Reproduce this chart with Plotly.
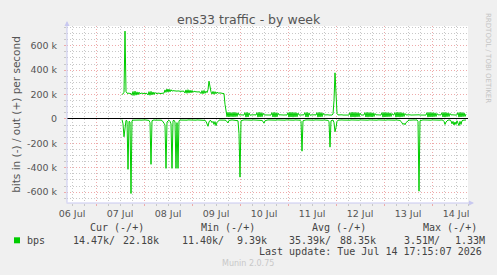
import pandas as pd
import plotly.graph_objects as go

# ---------------- data (30-minute samples, kbit/s) ----------------
start_time = "2026-07-07 13:00"
step = "30min"

out_k = [
    200, 205, 215, 720, 225, 212, 208, 214, 206, 210, 195, 225, 192, 228, 195, 222,
    198, 220, 205, 212, 210, 208, 212, 207, 211, 209, 196, 224, 194, 226, 197, 221,
    200, 218, 208, 211, 209, 212, 208, 210, 213, 209, 212, 238, 218, 246, 220, 244,
    222, 240, 228, 232, 230, 229, 231, 228, 230, 227, 229, 226, 228, 225, 227, 212,
    238, 210, 240, 212, 236, 214, 234, 218, 228, 224, 222, 225, 221, 223, 220, 208,
    232, 206, 234, 210, 228, 216, 240, 310, 250, 222, 204, 226, 202, 224, 206, 220,
    212, 214, 211, 213, 210, 212, 208, 120, 40, 18, 55, 16, 54, 18, 52, 17,
    55, 18, 52, 20, 50, 33, 34, 32, 33, 34, 32, 52, 15, 54, 16, 50,
    30, 33, 34, 32, 33, 34, 32, 52, 15, 55, 16, 53, 18, 48, 33, 32,
    34, 33, 32, 34, 33, 32, 52, 16, 54, 15, 52, 18, 48, 33, 34, 32,
    33, 34, 32, 33, 34, 32, 52, 15, 55, 16, 54, 15, 53, 17, 52, 18,
    48, 33, 32, 34, 33, 32, 34, 52, 16, 54, 15, 50, 30, 33, 34, 32,
    33, 34, 32, 52, 15, 54, 16, 53, 18, 48, 33, 34, 32, 33, 34, 32,
    33, 34, 32, 40, 150, 378, 130, 45, 33, 34, 32, 33, 34, 32, 33, 34,
    32, 33, 34, 32, 52, 15, 55, 16, 54, 15, 53, 17, 52, 18, 48, 33,
    32, 34, 33, 52, 16, 54, 15, 53, 17, 52, 16, 50, 20, 45, 33, 34,
    32, 33, 34, 32, 52, 15, 54, 16, 53, 17, 52, 18, 50, 20, 45, 33,
    34, 52, 15, 55, 16, 54, 15, 53, 17, 50, 20, 45, 33, 34, 32, 33,
    34, 32, 33, 34, 32, 33, 34, 32, 33, 34, 32, 33, 34, 32, 33, 34,
    32, 52, 15, 54, 16, 53, 17, 52, 18, 50, 20, 45, 33, 34, 32, 33,
    52, 16, 54, 15, 53, 18, 50, 20, 45, 33, 34, 32, 33, 34, 32, 33,
    52, 15, 54, 16, 53, 18, 50, 20, 40,
]

in_k = [
    -5, -40, -146, -90, -12, -15, -413, -20, -25, -611, -15, -10, -9, -10, -8, -9,
    -10, -8, -9, -10, -8, -9, -10, -8, -9, -10, -8, -12, -30, -372, -15, -9,
    -8, -10, -9, -8, -10, -9, -8, -10, -12, -20, -35, -50, -405, -25, -15, -10,
    -20, -40, -405, -15, -10, -25, -405, -30, -405, -15, -9, -10, -8, -9, -10, -8,
    -9, -10, -8, -9, -10, -8, -9, -10, -8, -9, -10, -8, -9, -10, -8, -9,
    -10, -8, -9, -12, -20, -35, -60, -25, -12, -15, -30, -20, -45, -22, -55, -30,
    -15, -10, -9, -8, -10, -9, -8, -10, -12, -25, -33, -12, -9, -10, -8, -9,
    -10, -8, -9, -10, -15, -120, -477, -15, -9, -10, -8, -9, -10, -8, -9, -10,
    -8, -9, -10, -8, -9, -10, -8, -9, -10, -8, -9, -10, -12, -20, -35, -15,
    -9, -10, -8, -9, -10, -8, -9, -10, -8, -9, -10, -8, -9, -10, -8, -9,
    -10, -8, -9, -10, -8, -9, -10, -8, -9, -10, -8, -9, -10, -8, -9, -10,
    -8, -9, -10, -20, -264, -15, -9, -10, -8, -9, -10, -8, -9, -10, -8, -9,
    -10, -8, -9, -10, -8, -9, -10, -8, -9, -10, -8, -9, -10, -8, -12, -20,
    -231, -15, -10, -9, -30, -105, -70, -20, -10, -8, -9, -10, -8, -9, -10, -8,
    -9, -10, -8, -9, -10, -8, -9, -10, -8, -9, -10, -8, -9, -10, -8, -9,
    -10, -8, -9, -10, -8, -9, -10, -8, -9, -10, -8, -9, -10, -8, -9, -10,
    -8, -9, -10, -8, -9, -10, -8, -9, -10, -8, -9, -10, -8, -9, -10, -8,
    -9, -10, -8, -9, -10, -8, -12, -20, -30, -45, -35, -48, -30, -20, -12, -9,
    -10, -8, -9, -10, -8, -9, -10, -8, -20, -592, -15, -9, -10, -8, -9, -10,
    -8, -9, -10, -8, -9, -10, -8, -9, -10, -8, -9, -10, -8, -9, -10, -8,
    -9, -10, -20, -45, -25, -12, -9, -10, -8, -15, -40, -20, -50, -25, -45, -15,
    -30, -55, -20, -45, -15, -10, -9, -10, -8,
]

y_tick_vals = [-600, -400, -200, 0, 200, 400, 600]
y_tick_text = ["-600 k", "-400 k", "-200 k", "0", "200 k", "400 k", "600 k"]

legend_label = "bps"
stat_headers = ["Cur (-/+)", "Min (-/+)", "Avg (-/+)", "Max (-/+)"]
stat_values = ["14.47k/", "22.18k", "11.40k/", "9.39k", "35.39k/", "88.35k", "3.51M/", "1.33M"]
last_update = "Last update: Tue Jul 14 17:15:07 2026"
title_text = "ens33 traffic - by week"
y_title = "bits in (-) / out (+) per second"
watermark = "RRDTOOL / TOBI OETIKER"
footer = "Munin 2.0.75"

times = pd.date_range(start=start_time, periods=len(out_k), freq=step)

# ---------------- layout geometry ----------------
W, H = 497, 275
PL, PR, PT, PB = 67, 468, 26, 203   # plot box in pixels


def px(xp):
    return (xp - PL) / (PR - PL)


def py(yp):
    return (PB - yp) / (PB - PT)


GREEN = "#00CC00"
MGRID = "#eeaaaa"
GRID = "#c8c8c8"
AXIS = "#c8c8f0"
TXT = "#555555"
DASH = "1px,2px"

fig = go.Figure()
fig.add_trace(go.Scatter(x=times, y=out_k, mode="lines",
                         line=dict(color=GREEN, width=1), showlegend=False))
fig.add_trace(go.Scatter(x=times, y=in_k, mode="lines",
                         line=dict(color=GREEN, width=1), showlegend=False))

fig.update_layout(
    width=W, height=H,
    margin=dict(l=PL, r=W - PR, t=PT, b=H - PB, pad=0),
    paper_bgcolor="#F0F0F0", plot_bgcolor="white",
    font=dict(family="DejaVu Sans", size=10, color=TXT),
)

fig.update_xaxes(
    type="date",
    range=["2026-07-06 09:30", "2026-07-14 18:00"],
    tick0="2026-07-07", dtick=86400000, tickformat="%d %b",
    ticklabelmode="period",
    showgrid=True, gridcolor=MGRID, griddash=DASH, gridwidth=1,
    ticks="outside", ticklen=2, tickcolor=MGRID,
    minor=dict(tickmode="linear", dtick=21600000, tick0="2026-07-07", showgrid=True,
               gridcolor=GRID, griddash=DASH, gridwidth=1,
               ticks="outside", ticklen=2, tickcolor=GRID),
    showline=False, zeroline=False,
    tickfont=dict(family="DejaVu Sans", size=9.5, color=TXT),
)

fig.update_yaxes(
    range=[-689, 762],
    tickmode="array", tickvals=y_tick_vals, ticktext=y_tick_text,
    showgrid=True, gridcolor=MGRID, griddash=DASH, gridwidth=1,
    ticks="outside", ticklen=2, tickcolor=MGRID, ticklabelstandoff=5,
    minor=dict(tickmode="linear", tick0=0, dtick=50, showgrid=True, gridcolor=GRID,
               griddash=DASH, gridwidth=1,
               ticks="outside", ticklen=2, tickcolor=GRID),
    zeroline=True, zerolinecolor="black", zerolinewidth=1,
    showline=False,
    tickfont=dict(family="DejaVu Sans", size=9.5, color=TXT),
    title=dict(text=y_title, font=dict(family="DejaVu Sans", size=10.5, color=TXT),
               standoff=4),
)

ann = []
# axis arrows
ann.append(dict(xref="paper", yref="paper", x=px(PL), y=py(21), ax=0, ay=183,
                axref="pixel", ayref="pixel", text="", showarrow=True,
                arrowhead=2, arrowsize=1, arrowwidth=1, arrowcolor=AXIS))
ann.append(dict(xref="paper", yref="paper", x=px(474), y=py(PB), ax=-409, ay=0,
                axref="pixel", ayref="pixel", text="", showarrow=True,
                arrowhead=2, arrowsize=1, arrowwidth=1, arrowcolor=AXIS))
# title
ann.append(dict(xref="paper", yref="paper", x=px(248.7), y=py(19.5), text=title_text,
                showarrow=False, xanchor="center", yanchor="middle",
                font=dict(family="DejaVu Sans", size=12.5, color=TXT)))
# watermark
ann.append(dict(xref="paper", yref="paper", x=px(488), y=py(58), text=watermark,
                showarrow=False, xanchor="center", yanchor="middle", textangle=90,
                font=dict(family="DejaVu Sans", size=7, color="#c4c4c4")))

mono = dict(family="DejaVu Sans Mono", size=10, color="#444444")
header_x = [89.3, 200.7, 311.7, 422.7]
for hx, ht in zip(header_x, stat_headers):
    ann.append(dict(xref="paper", yref="paper", x=px(hx - 1.5), y=py(227.3), text=ht,
                    showarrow=False, xanchor="left", yanchor="middle", font=mono))
ann.append(dict(xref="paper", yref="paper", x=px(26.7 - 1.5), y=py(240), text=legend_label,
                showarrow=False, xanchor="left", yanchor="middle", font=mono))
value_x = [72.7, 122.7, 181.0, 236.7, 288.7, 339.0, 403.3, 454.0]
for vx, vt in zip(value_x, stat_values):
    ann.append(dict(xref="paper", yref="paper", x=px(vx - 1.5), y=py(240), text=vt,
                    showarrow=False, xanchor="left", yanchor="middle", font=mono))
ann.append(dict(xref="paper", yref="paper", x=px(483.5), y=py(251.7), text=last_update,
                showarrow=False, xanchor="right", yanchor="middle", font=mono))
ann.append(dict(xref="paper", yref="paper", x=px(248), y=py(263.3), text=footer,
                showarrow=False, xanchor="center", yanchor="middle",
                font=dict(family="DejaVu Sans", size=8, color="#c8c8c8")))
fig.update_layout(annotations=ann)

# legend colour box
fig.add_shape(type="rect", xref="paper", yref="paper",
              x0=px(14), x1=px(20), y0=py(243.3), y1=py(237.3),
              fillcolor=GREEN, line=dict(width=0))

fig.write_html("out.html")
